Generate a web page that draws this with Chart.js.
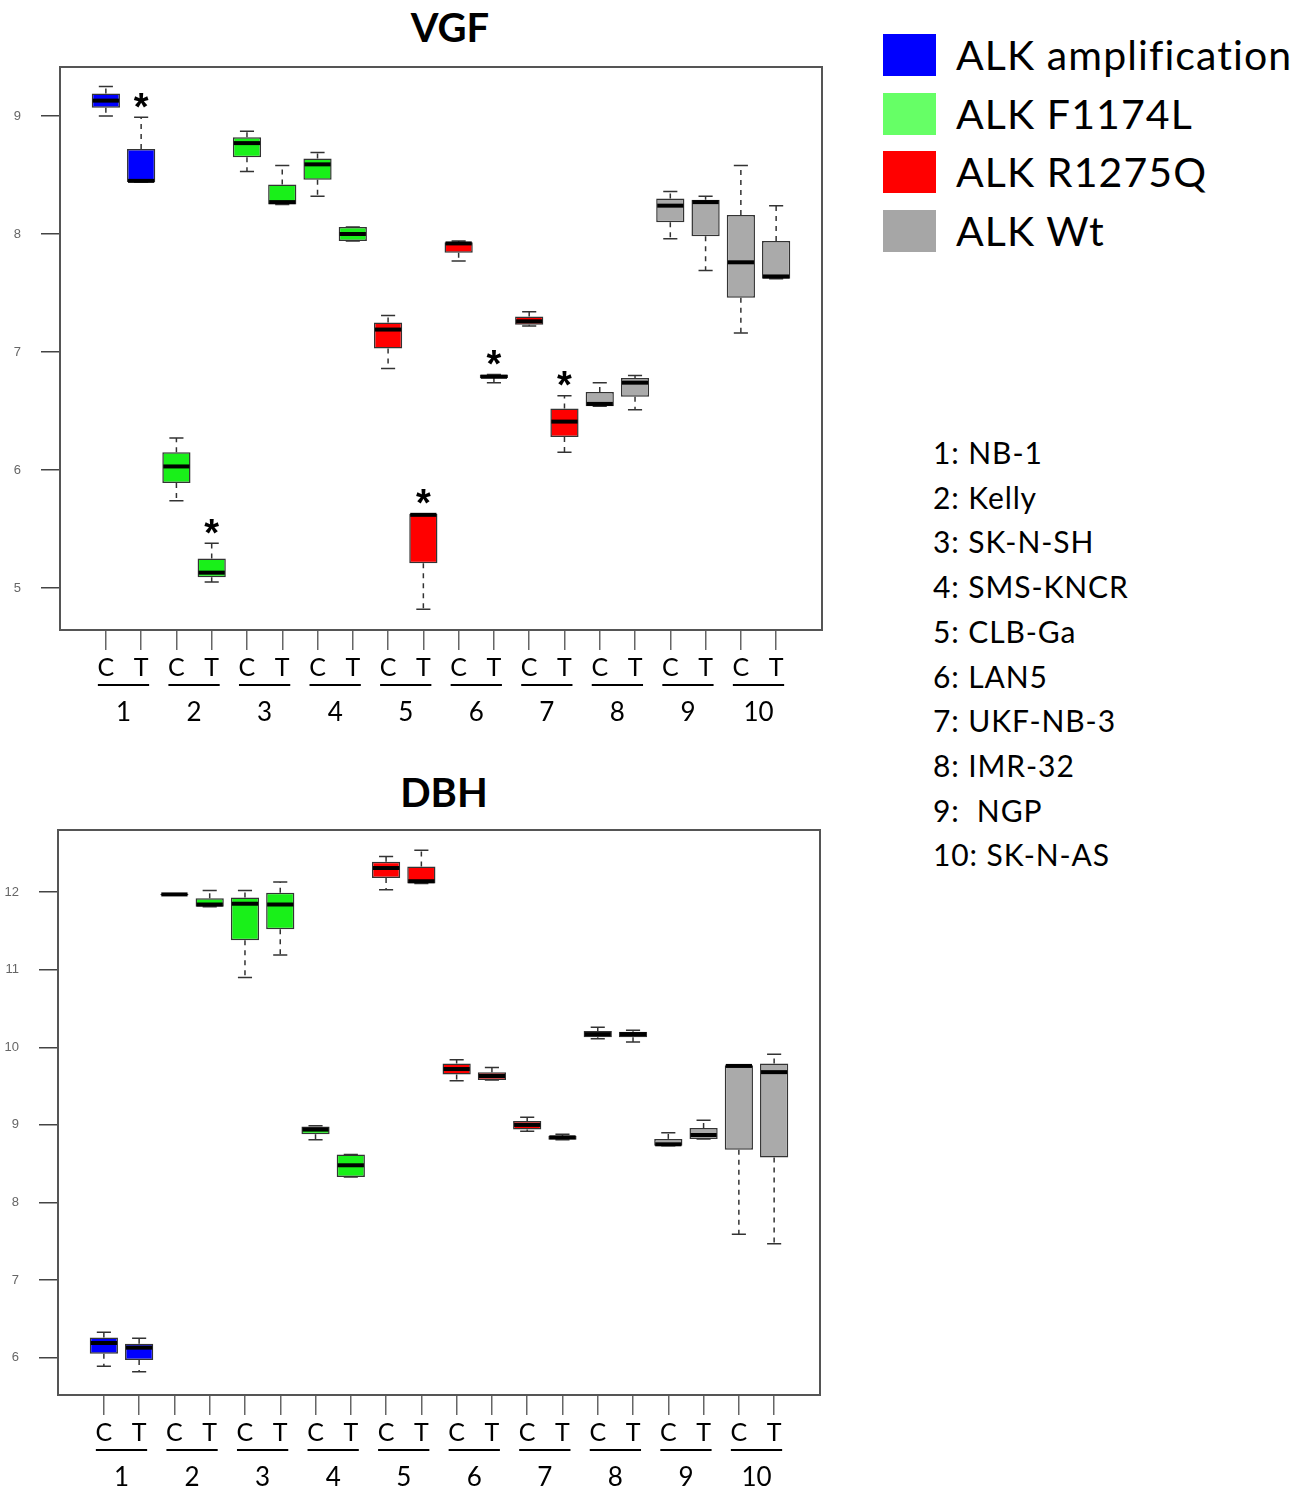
<!DOCTYPE html>
<html>
<head>
<meta charset="utf-8">
<title>VGF / DBH</title>
<script src="https://cdn.jsdelivr.net/npm/chart.js@4.4.0/dist/chart.umd.min.js"></script>
<style>
  body { margin: 0; background: #fff; width: 1311px; height: 1491px; position: relative; overflow: hidden; font-family: Lato, "Noto Sans", sans-serif; color: #000; }
  canvas { position: absolute; left: 0; }
  #vgf { top: 0; }
  #dbh { top: 745px; }
  .title { position: absolute; font-weight: bold; font-size: 40px; line-height: 48px; transform: translateX(-50%); white-space: nowrap; }
  .legend { position: absolute; left: 883px; top: 34px; }
  .legend .row { display: flex; align-items: center; height: 42px; margin-bottom: 16.7px; }
  .legend .sw { width: 53px; height: 42px; margin-right: 20px; }
  .legend .lbl { font-size: 41px; line-height: 42px; letter-spacing: 1.1px; white-space: nowrap; }
  .lines { position: absolute; left: 933px; top: 430px; font-size: 30px; line-height: 44.7px; letter-spacing: 0.9px; white-space: pre; }
</style>
</head>
<body>
<div class="title" style="left:450px; top:3px;">VGF</div>
<div class="title" style="left:444px; top:768px;">DBH</div>
<canvas id="vgf" width="840" height="745"></canvas>
<canvas id="dbh" width="840" height="746"></canvas>
<div class="legend" id="legend"></div>
<div class="lines" id="lines"></div>

<script>
// 20 boxes: C and T for each of the 10 cell lines
const positions = [1,2,3,4,5,6,7,8,9,10,11,12,13,14,15,16,17,18,19,20];
const cellLines = ['NB-1', 'Kelly', 'SK-N-SH', 'SMS-KNCR', 'CLB-Ga', 'LAN5', 'UKF-NB-3', 'IMR-32', ' NGP', 'SK-N-AS'];
const lineGroup = [0, 1, 1, 1, 2, 2, 2, 3, 3, 3];   // ALK status per cell line
const groupNames = ['ALK amplification', 'ALK F1174L', 'ALK R1275Q', 'ALK Wt'];
const groupColors = ['#0000FF', '#19F019', '#FF0000', '#AAAAAA'];
const legendColors = ['#0000FF', '#66FF66', '#FF0000', '#A6A6A6'];

// VGF
const vgfLow  = [9.00, 8.44, 5.74, 5.05, 8.53, 8.25, 8.32, 7.94, 6.86, 4.82, 7.77, 6.74, 7.22, 6.15, 6.54, 6.51, 7.96, 7.69, 7.16, 7.62];
const vgfQ1   = [9.07, 8.44, 5.89, 5.09, 8.65, 8.25, 8.46, 7.94, 7.03, 5.21, 7.84, 6.78, 7.23, 6.28, 6.54, 6.62, 8.10, 7.98, 7.46, 7.62];
const vgfMed  = [9.13, 8.45, 6.03, 5.13, 8.77, 8.27, 8.59, 8.00, 7.19, 5.62, 7.92, 6.79, 7.26, 6.41, 6.56, 6.74, 8.24, 8.27, 7.76, 7.64];
const vgfQ3   = [9.19, 8.72, 6.15, 5.25, 8.82, 8.42, 8.64, 8.06, 7.25, 5.63, 7.93, 6.81, 7.30, 6.52, 6.66, 6.78, 8.30, 8.29, 8.16, 7.94];
const vgfHigh = [9.25, 8.99, 6.27, 5.38, 8.87, 8.58, 8.69, 8.06, 7.31, 5.63, 7.94, 6.81, 7.34, 6.63, 6.74, 6.80, 8.36, 8.32, 8.58, 8.24];
const vgfStar = [0, 1, 0, 1, 0, 0, 0, 0, 0, 1, 0, 1, 0, 1, 0, 0, 0, 0, 0, 0];
const vgfTicks = [5, 6, 7, 8, 9];

// DBH
const dbhLow  = [5.89, 5.82, 11.96, 11.81, 10.90, 11.19, 8.81, 8.33, 12.03, 12.11, 9.57, 9.58, 8.92, 8.81, 10.11, 10.07, 8.73, 8.82, 7.59, 7.47];
const dbhQ1   = [6.05, 5.97, 11.96, 11.81, 11.38, 11.52, 8.88, 8.33, 12.18, 12.11, 9.65, 9.58, 8.94, 8.81, 10.13, 10.13, 8.73, 8.82, 8.68, 8.58];
const dbhMed  = [6.19, 6.13, 11.97, 11.84, 11.85, 11.84, 8.94, 8.48, 12.31, 12.14, 9.72, 9.63, 9.00, 8.84, 10.17, 10.17, 8.75, 8.87, 9.76, 9.68];
const dbhQ3   = [6.26, 6.18, 11.98, 11.92, 11.93, 11.99, 8.98, 8.62, 12.39, 12.33, 9.79, 9.68, 9.05, 8.86, 10.21, 10.20, 8.82, 8.96, 9.77, 9.79];
const dbhHigh = [6.33, 6.25, 11.98, 12.02, 12.02, 12.13, 8.99, 8.62, 12.46, 12.54, 9.84, 9.74, 9.10, 8.88, 10.26, 10.22, 8.90, 9.06, 9.77, 9.91];
const dbhStar = [0, 0, 0, 0, 0, 0, 0, 0, 0, 0, 0, 0, 0, 0, 0, 0, 0, 0, 0, 0];
const dbhTicks = [6, 7, 8, 9, 10, 11, 12];

const boxColors = positions.map(p => groupColors[lineGroup[Math.ceil(p / 2) - 1]]);

// whiskers, medians, asterisks and the C/T group labels
const boxPlot = {
  id: 'boxPlot',
  afterDatasetsDraw(chart, args, o) {
    const ctx = chart.ctx;
    const y = chart.scales.y;
    const meta = chart.getDatasetMeta(0);
    ctx.save();
    meta.data.forEach((bar, i) => {
      const {x, width} = bar.getProps(['x', 'width'], true);
      const half = width / 2;
      const pLow = y.getPixelForValue(o.low[i]);
      const pQ1 = y.getPixelForValue(o.q1[i]);
      const pQ3 = y.getPixelForValue(o.q3[i]);
      const pHigh = y.getPixelForValue(o.high[i]);
      const pMed = y.getPixelForValue(o.med[i]);

      ctx.strokeStyle = '#333';
      ctx.lineWidth = 1.5;
      ctx.setLineDash([5, 5]);
      ctx.beginPath();
      if (pHigh < pQ3 - 1) { ctx.moveTo(x, pQ3); ctx.lineTo(x, pHigh); }
      if (pLow > pQ1 + 1) { ctx.moveTo(x, pQ1); ctx.lineTo(x, pLow); }
      ctx.stroke();
      ctx.setLineDash([]);
      ctx.beginPath();
      ctx.moveTo(x - half / 2, pHigh); ctx.lineTo(x + half / 2, pHigh);
      ctx.moveTo(x - half / 2, pLow); ctx.lineTo(x + half / 2, pLow);
      ctx.stroke();

      ctx.strokeStyle = '#000';
      ctx.lineWidth = 4;
      ctx.beginPath();
      ctx.moveTo(x - half + 1, pMed); ctx.lineTo(x + half - 1, pMed);
      ctx.stroke();

      if (o.star[i]) {
        ctx.fillStyle = '#000';
        ctx.font = 'bold 38px "Liberation Sans"';
        ctx.textAlign = 'center';
        ctx.textBaseline = 'alphabetic';
        const m = ctx.measureText('*');
        const mid = (m.actualBoundingBoxAscent - m.actualBoundingBoxDescent) / 2;
        ctx.fillText('*', x, pHigh - 17 + mid);
      }
    });
    ctx.restore();
  },
  afterDraw(chart) {
    const {ctx, chartArea: a} = chart;
    const x = chart.scales.x;
    ctx.save();
    ctx.strokeStyle = '#555';
    ctx.lineWidth = 2;
    ctx.strokeRect(a.left, a.top, a.right - a.left, a.bottom - a.top);

    ctx.strokeStyle = '#000';
    ctx.fillStyle = '#000';
    ctx.lineWidth = 2;
    ctx.font = '26px Lato';
    ctx.textAlign = 'center';
    ctx.textBaseline = 'middle';
    cellLines.forEach((name, g) => {
      const xc = x.getPixelForValue(positions[2 * g]);
      const xt = x.getPixelForValue(positions[2 * g + 1]);
      ctx.beginPath();
      ctx.moveTo(xc - 8, a.bottom + 55);
      ctx.lineTo(xt + 8, a.bottom + 55);
      ctx.stroke();
      ctx.fillText(String(g + 1), (xc + xt) / 2, a.bottom + 83);
    });
    ctx.restore();
  }
};

function makeChart(id, low, q1, med, q3, high, star, ticks, yMin, yMax, leftW, padTop, padRight, axisH) {
  return new Chart(document.getElementById(id), {
    type: 'bar',
    data: {
      datasets: [{
        data: positions.map((p, i) => ({x: p, y: [q1[i], q3[i]]})),
        backgroundColor: boxColors,
        borderColor: '#333',
        borderWidth: 1.5,
        borderSkipped: false,
        categoryPercentage: 1,
        barPercentage: 0.8
      }]
    },
    options: {
      responsive: false,
      animation: false,
      layout: { padding: { top: padTop, right: padRight, left: 0, bottom: 0 } },
      plugins: {
        legend: { display: false },
        tooltip: { enabled: false },
        boxPlot: { low: low, q1: q1, med: med, q3: q3, high: high, star: star }
      },
      scales: {
        x: {
          type: 'linear',
          min: -0.3,
          max: 21.3,
          offset: false,
          afterBuildTicks: axis => { axis.ticks = positions.map(v => ({value: v})); },
          afterFit: axis => { axis.height = axisH; },
          grid: { display: true, offset: false, drawOnChartArea: false, tickLength: 20, color: '#666', lineWidth: 1.5 },
          border: { display: false },
          ticks: {
            autoSkip: false,
            maxRotation: 0,
            padding: 3,
            color: '#000',
            font: { family: 'Lato', size: 25 },
            callback: v => (v % 2 === 1 ? 'C' : 'T')
          }
        },
        y: {
          min: yMin,
          max: yMax,
          afterBuildTicks: axis => { axis.ticks = ticks.map(v => ({value: v})); },
          afterFit: axis => { axis.width = leftW; },
          grid: { display: true, drawOnChartArea: false, tickLength: 19, color: '#444', lineWidth: 1.5 },
          border: { display: false },
          ticks: {
            padding: 20,
            color: '#666',
            font: { family: 'Liberation Sans', size: 13 }
          }
        }
      }
    },
    plugins: [boxPlot]
  });
}

makeChart('vgf', vgfLow, vgfQ1, vgfMed, vgfQ3, vgfHigh, vgfStar, vgfTicks, 4.644, 9.415, 60, 67, 18, 115);
makeChart('dbh', dbhLow, dbhQ1, dbhMed, dbhQ3, dbhHigh, dbhStar, dbhTicks, 5.52, 12.80, 58, 85, 20, 96);

// legend and cell line key
const legend = document.getElementById('legend');
groupNames.forEach((name, i) => {
  const row = document.createElement('div');
  row.className = 'row';
  row.innerHTML = '<span class="sw" style="background:' + legendColors[i] + '"></span><span class="lbl">' + name + '</span>';
  legend.appendChild(row);
});
document.getElementById('lines').textContent = cellLines.map((n, i) => (i + 1) + ': ' + n).join('\n');
</script>
</body>
</html>
